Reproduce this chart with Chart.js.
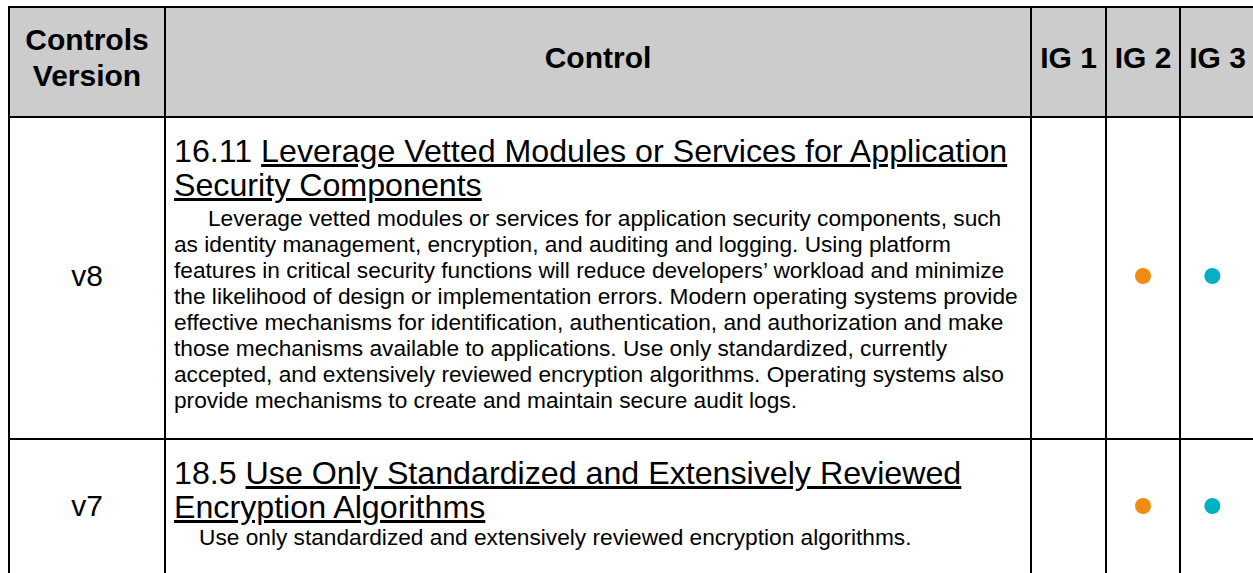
<!DOCTYPE html>
<html>
<head>
<meta charset="utf-8">
<script src="https://cdn.jsdelivr.net/npm/chart.js@4.4.0/dist/chart.umd.min.js"></script>
<style>
  html, body { margin: 0; padding: 0; background: #fff; width: 1253px; height: 573px; overflow: hidden; }
  body { font-family: "Liberation Sans", Arial, sans-serif; color: #000; position: relative; }
  .cell { position: absolute; box-sizing: border-box; border: 2px solid #000; }
  .head { background: #ccc; font-weight: bold; font-size: 30px; line-height: 36px; display: flex; align-items: center; justify-content: center; text-align: center; padding-bottom: 9px; white-space: pre-line; }
  .ver { font-size: 30px; display: flex; align-items: center; justify-content: center; padding-bottom: 4px; }
  .ctl { padding: 16px 8px 0 8px; }
  .title { font-size: 32.2px; line-height: 34px; }
  .title a { color: #000; text-decoration: underline; }
  .desc { font-size: 22.7px; line-height: 26px; }
  canvas { position: absolute; z-index: 2; }
</style>
</head>
<body>
<script>
// table content
const headers = ['Controls\nVersion', 'Control', 'IG 1', 'IG 2', 'IG 3'];
const versions = ['v8', 'v7'];
const controlIds = ['16.11', '18.5'];
const controlTitles = [
  'Leverage Vetted Modules or Services for Application\nSecurity Components',
  'Use Only Standardized and Extensively Reviewed\nEncryption Algorithms'
];
const controlDescriptions = [
  'Leverage vetted modules or services for application security components, such as identity management, encryption, and auditing and logging. Using platform features in critical security functions will reduce developers\u2019 workload and minimize the likelihood of design or implementation errors. Modern operating systems provide effective mechanisms for identification, authentication, and authorization and make those mechanisms available to applications. Use only standardized, currently accepted, and extensively reviewed encryption algorithms. Operating systems also provide mechanisms to create and maintain secure audit logs.',
  'Use only standardized and extensively reviewed encryption algorithms.'
];
// implementation group marks per control (one array per IG column)
const igLabels = ['IG 1', 'IG 2', 'IG 3'];
const ig1 = [false, false];
const ig2 = [true, true];
const ig3 = [true, true];

// layout
const colEdges = [9, 165, 1031, 1106, 1180, 1255];
const rowEdges = [7, 117, 439, 577];
const descIndent = [34, 25];
const descGap = [3, 0];
const igColors = ['#7f7f7f', '#f28b12', '#00b2c1'];

function cell(c0, c1, r, cls) {
  const d = document.createElement('div');
  d.className = 'cell ' + cls;
  d.style.left = (colEdges[c0] - 1) + 'px';
  d.style.top = (rowEdges[r] - 1) + 'px';
  d.style.width = (colEdges[c1] - colEdges[c0] + 2) + 'px';
  d.style.height = (rowEdges[r + 1] - rowEdges[r] + 2) + 'px';
  document.body.appendChild(d);
  return d;
}

headers.forEach((h, c) => { cell(c, c + 1, 0, 'head').textContent = h; });

const igFlags = [ig1, ig2, ig3];

versions.forEach((v, i) => {
  const r = i + 1;
  cell(0, 1, r, 'ver').textContent = v;

  const ctl = cell(1, 2, r, 'ctl');
  const t = document.createElement('div');
  t.className = 'title';
  t.append(controlIds[i] + ' ');
  controlTitles[i].split('\n').forEach((line, k) => {
    if (k > 0) t.appendChild(document.createElement('br'));
    const a = document.createElement('a');
    a.textContent = line;
    t.appendChild(a);
  });
  const d = document.createElement('div');
  d.className = 'desc';
  d.style.textIndent = descIndent[i] + 'px';
  d.style.marginTop = descGap[i] + 'px';
  d.textContent = controlDescriptions[i];
  ctl.appendChild(t);
  ctl.appendChild(d);

  for (let c = 2; c < 5; c++) cell(c, c + 1, r, 'ig');

  // marks drawn by Chart.js over the three IG columns of this row
  const cv = document.createElement('canvas');
  cv.width = colEdges[5] - colEdges[2];
  cv.height = rowEdges[r + 1] - rowEdges[r] - 4;
  cv.style.left = colEdges[2] + 'px';
  cv.style.top = rowEdges[r] + 'px';
  document.body.appendChild(cv);

  new Chart(cv, {
    type: 'scatter',
    data: {
      datasets: igLabels.map((ig, j) => ({
        label: ig,
        data: igFlags[j][i] ? [{ x: ig, y: v }] : [],
        backgroundColor: igColors[j],
        borderWidth: 0,
        pointRadius: 8,
        pointHoverRadius: 8
      }))
    },
    options: {
      responsive: false,
      animation: false,
      events: [],
      layout: { padding: 0 },
      plugins: { legend: { display: false }, tooltip: { enabled: false } },
      scales: {
        x: { type: 'category', labels: igLabels, offset: true, display: false },
        y: { type: 'category', labels: [v], offset: true, display: false }
      }
    }
  });
});
</script>
</body>
</html>
